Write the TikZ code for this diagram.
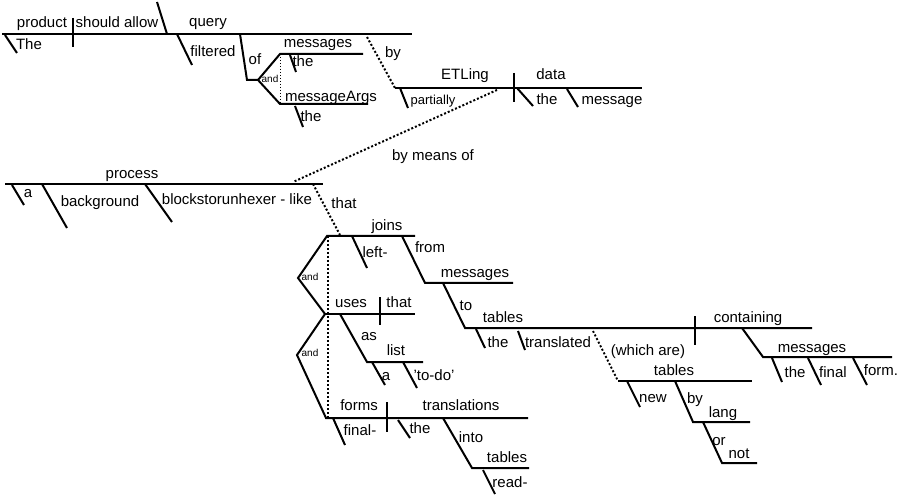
\documentclass[tikz,border=0pt]{standalone}
\usepackage{fontspec}
\setmainfont{Liberation Sans}

\begin{document}
\begin{tikzpicture}[x=1pt,y=-1pt,line width=2pt,
  word/.style={inner sep=0pt,anchor=base,font=\fontsize{15}{17}\selectfont},
  smallword/.style={inner sep=0pt,anchor=base,font=\fontsize{13}{15}\selectfont},
  conj/.style={inner sep=0pt,font=\fontsize{10}{12}\selectfont},
  link/.style={dotted,line width=2pt},
  thinlink/.style={dotted,line width=1pt}]
\useasboundingbox (0,0) rectangle (900,497);
% ---------- main clause ----------
\draw (2,34) -- (412,34);
\draw (73,18) -- (73,47);
\draw (157,2) -- (167,34);
\draw (5,35) -- (17,53);          % The
\draw (177,34) -- (192,65);       % filtered
\node[word] (product) at (42,28) {product};
\node[word] (allow) at (117,28) {should allow};
\node[word] (query) at (208,27) {query};
\node[word] (the1) at (29,50) {The};
\node[word] (filtered) at (213,57) {filtered};
% ---------- of messages and messageArgs ----------
\draw (240,34) -- (247,80) -- (258,80);
\draw (363,54) -- (280,54) -- (258,80) -- (280,104) -- (368,104);
\draw[thinlink] (280,54) -- (280,104);
\draw (290,55) -- (296,72);       % the
\draw (295,106) -- (303,127);     % the
\node[word] (of) at (255,65) {of};
\node[conj] (and1) at (270,79) {and};
\node[word] (messages1) at (318,48) {messages};
\node[word] (the2) at (303,67) {the};
\node[word] (messageargs) at (331,102) {messageArgs};
\node[word] (the3) at (311,122) {the};
% ---------- by ETLing data ----------
\draw[link] (367,37) -- (395,88);
\draw (395,88) -- (642,88);
\draw (514,73) -- (514,102);
\draw (400,88) -- (408,108);      % partially
\draw (517,88) -- (533,106);      % the
\draw (567,89) -- (578,107);      % message
\node[word] (by1) at (393,58) {by};
\node[word] (etling) at (465,80) {ETLing};
\node[word] (data) at (551,80) {data};
\node[smallword] (partially) at (433,105) {partially};
\node[word] (the4) at (547,105) {the};
\node[word] (message) at (612,105) {message};
% ---------- by means of a process ----------
\draw[link] (497,90) -- (293,182);
\draw (5,184) -- (323,184);
\draw (12,185) -- (24,205);       % a
\draw (42,184) -- (67,228);       % background
\draw (145,184) -- (172,222);     % blockstorunhexer - like
\draw[link] (313,184) -- (340,235);
\node[word] (bymeans) at (433,161) {by means of};
\node[word] (process) at (132,179) {process};
\node[word] (a1) at (28,198) {a};
\node[word] (background) at (100,207) {background};
\node[word] (blocks) at (237,205) {blockstorunhexer - like};
\node[word] (that1) at (344,209) {that};
% ---------- compound predicate ----------
\draw (415,236) -- (327,236) -- (298,278) -- (325,314) -- (297,355) -- (326,418) -- (528,418);
\draw (325,314) -- (415,314);
\draw[link] (328,236) -- (328,418);
\node[conj] (and2) at (310,277) {and};
\node[conj] (and3) at (310,353) {and};
% ---------- joins ----------
\draw (352,236) -- (367,268);     % left-
\draw (402,236) -- (425,283) -- (513,283);
\draw (443,283) -- (465,328) -- (812,328);
\draw (476,329) -- (485,348);     % the
\draw (518,331) -- (525,350);     % translated
\node[word] (joins) at (387,231) {joins};
\node[word] (left) at (375,258) {left-};
\node[word] (from) at (430,253) {from};
\node[word] (messages2) at (475,278) {messages};
\node[word] (to) at (466,310) {to};
\node[word] (tables1) at (503,322) {tables};
\node[word] (the5) at (498,347) {the};
\node[word] (translated) at (558,347) {translated};
% ---------- (which are) new tables ----------
\draw[link] (593,331) -- (618,381);
\draw (618,381) -- (752,381);
\draw (627,381) -- (640,407);     % new
\draw (675,381) -- (693,422) -- (750,422);
\draw (703,422) -- (722,463) -- (757,463);
\node[word] (whichare) at (648,355) {(which are)};
\node[word] (tables2) at (674,375) {tables};
\node[word] (new) at (653,402) {new};
\node[word] (by2) at (695,403) {by};
\node[word] (lang) at (723,417) {lang};
\node[word] (or) at (719,445) {or};
\node[word] (not) at (739,458) {not};
% ---------- containing messages ----------
\draw (695,316) -- (695,345);
\draw (742,328) -- (763,357) -- (892,357);
\draw (772,358) -- (782,382);     % the
\draw (808,358) -- (821,385);     % final
\draw (853,358) -- (867,385);     % form.
\node[word] (containing) at (748,323) {containing};
\node[word] (messages3) at (812,352) {messages};
\node[word] (the6) at (795,377) {the};
\node[word] (final) at (833,377) {final};
\node[word] (form) at (881,375) {form.};
% ---------- uses that as list ----------
\draw (380,297) -- (380,325);
\draw (340,314) -- (367,362) -- (423,362);
\draw (372,362) -- (385,385);     % a
\draw (403,362) -- (417,388);     % 'to-do'
\node[word] (uses) at (351,308) {uses};
\node[word] (that2) at (399,308) {that};
\node[word] (as) at (369,340) {as};
\node[word] (list) at (396,355) {list};
\node[word] (a2) at (386,380) {a};
\node[word] (todo) at (434,380) {'to-do'};
% ---------- forms translations ----------
\draw (387,402) -- (387,432);
\draw (333,418) -- (345,445);     % final-
\draw (398,420) -- (410,438);     % the
\draw (443,418) -- (472,468) -- (529,468);
\draw (483,470) -- (495,494);     % read-
\node[word] (forms) at (359,410) {forms};
\node[word] (translations) at (461,410) {translations};
\node[word] (final2) at (360,435) {final-};
\node[word] (the7) at (420,433) {the};
\node[word] (into) at (471,442) {into};
\node[word] (tables3) at (507,462) {tables};
\node[word] (read) at (510,487) {read-};
\end{tikzpicture}
\end{document}
